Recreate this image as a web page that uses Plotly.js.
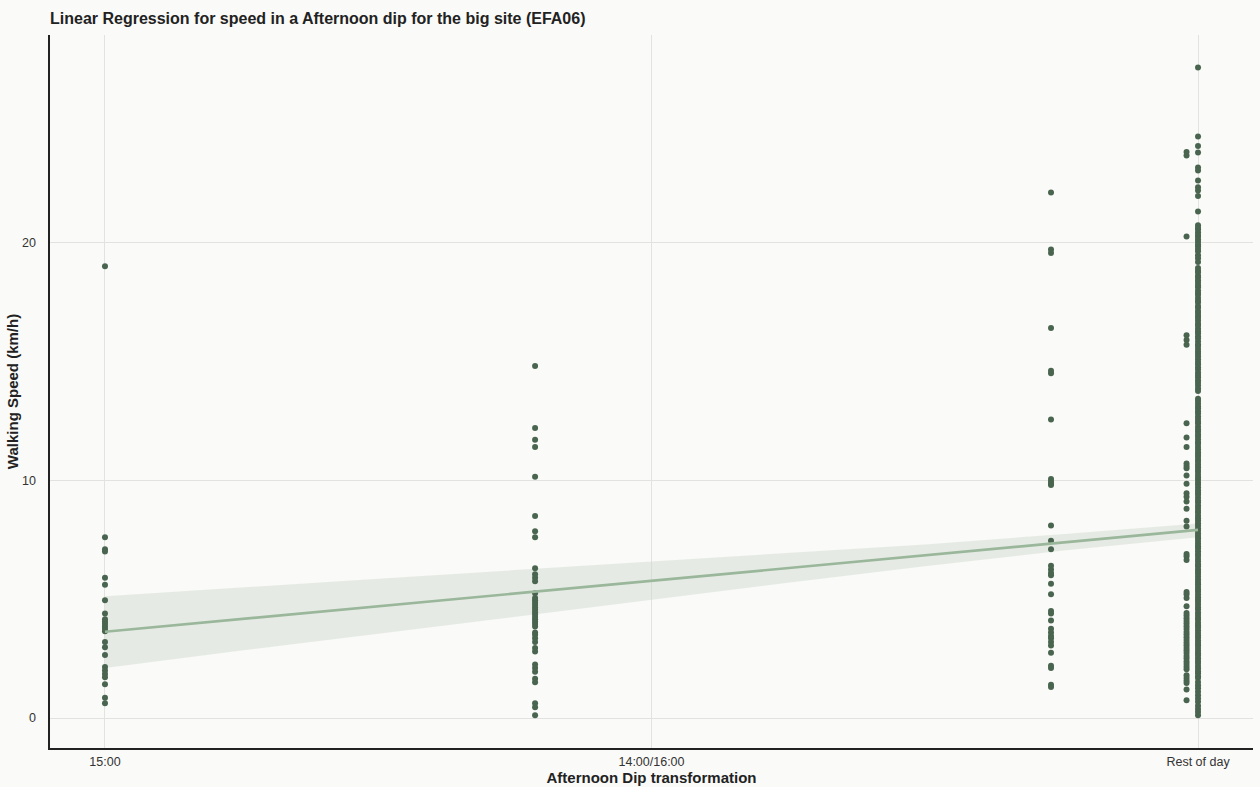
<!DOCTYPE html>
<html>
<head>
<meta charset="utf-8">
<script src="https://cdn.plot.ly/plotly-3.0.1.min.js"></script>
<style>
  html, body { margin: 0; padding: 0; background: #fafaf8; }
  #chart { width: 1260px; height: 787px; }
</style>
</head>
<body>
<div id="chart"></div>
<script>
// Afternoon-dip transformation positions (numeric x) and their axis labels
const tickValues = [0, 1, 2];
const tickLabels = ["15:00", "14:00/16:00", "Rest of day"];

// x position of each observation group
const groupX = [0, 0.787, 1.731, 1.979, 2];

// Walking speed (km/h) per group
const speed15 = [19.0, 7.6, 7.1, 7.0, 5.9, 5.6, 4.95, 4.4, 4.15, 4.05, 3.95, 3.85, 3.75, 3.65,
  3.2, 2.98, 2.65, 2.15, 2.0, 1.85, 1.72, 1.42, 0.85, 0.62];

const speedShoulder = [14.8, 12.2, 11.7, 11.4, 10.15, 8.5, 7.85, 7.6, 6.3, 6.05, 5.9, 5.75, 5.25,
  5.05, 4.95, 4.85, 4.75, 4.65, 4.55, 4.45, 4.35, 4.25, 4.15, 4.05, 3.95, 3.85, 3.6, 3.5, 3.35,
  3.2, 2.95, 2.8, 2.25, 2.1, 1.95, 1.65, 1.5, 0.62, 0.45, 0.12];

const speedLate = [22.1, 19.7, 19.55, 16.4, 14.6, 14.5, 12.55, 10.05, 9.95, 9.85, 9.8, 8.1, 7.45,
  7.1, 6.4, 6.25, 6.1, 6.0, 5.65, 5.2, 4.5, 4.4, 4.1, 3.75, 3.6, 3.45, 3.35, 3.2, 3.05, 2.75,
  2.2, 2.1, 1.4, 1.3];

const speedNearRest = [23.8, 23.65, 20.25, 16.1, 15.9, 15.7, 12.4, 11.8, 11.4, 10.7, 10.6, 10.5,
  10.2, 9.85, 9.45, 9.3, 9.1, 8.8, 8.3, 8.05, 6.9, 6.8, 6.65, 5.3, 5.2, 5.05, 4.7, 4.42, 4.31,
  4.2, 4.08, 3.97, 3.86, 3.74, 3.62, 3.51, 3.4, 3.28, 3.17, 3.06, 2.95, 2.84, 2.73, 2.61, 2.5,
  2.38, 2.27, 2.16, 2.05, 1.8, 1.68, 1.57, 1.47, 1.2, 0.75];

const speedRest = [27.35, 24.45, 24.05, 23.78, 23.15, 23.02, 22.6, 22.32, 22.18, 21.95, 21.3,
  20.72, 20.61, 20.55, 20.43, 20.31, 20.24, 20.12, 20.03, 19.91, 19.84, 19.72, 19.63,
  19.46, 19.33, 19.18,
  18.92, 18.81, 18.73, 18.6, 18.52, 18.41, 18.3, 18.19, 18.11, 17.98, 17.87, 17.8, 17.66, 17.55,
  17.47, 17.33, 17.25, 17.12, 17.03, 16.91, 16.82, 16.7, 16.58, 16.49, 16.37, 16.26, 16.18,
  16.05, 15.96, 15.83, 15.71, 15.64, 15.52, 15.4, 15.31, 15.2, 15.09, 14.97, 14.88, 14.75,
  14.66, 14.53, 14.42, 14.33, 14.2, 14.1, 13.98, 13.86, 13.75,
  13.42, 13.33, 13.21, 13.1, 13.02, 12.9, 12.81, 12.68, 12.57, 12.46, 12.38, 12.25, 12.13,
  12.04, 11.92, 11.83, 11.71, 11.6, 11.52, 11.4, 11.29, 11.18, 11.07, 10.98, 10.86, 10.77,
  10.65, 10.54, 10.43, 10.35, 10.22, 10.11, 10.02, 9.9, 9.81, 9.69, 9.58, 9.47, 9.39, 9.26,
  9.15, 9.06, 8.94, 8.83, 8.72, 8.63, 8.51, 8.4, 8.31, 8.19, 8.08, 7.97, 7.88, 7.76, 7.65,
  7.56, 7.44, 7.33, 7.22, 7.13, 7.01, 6.9, 6.81, 6.69, 6.58, 6.47, 6.38, 6.26, 6.15, 6.06,
  5.94, 5.83, 5.72, 5.63, 5.51, 5.4, 5.31, 5.19, 5.08, 4.97, 4.88, 4.76, 4.65, 4.56, 4.44,
  4.33, 4.22, 4.13, 4.01, 3.9, 3.81, 3.69, 3.58, 3.47, 3.38, 3.26, 3.15, 3.06, 2.94, 2.83,
  2.72, 2.63, 2.51, 2.4, 2.31, 2.19, 2.08, 1.97, 1.88, 1.76, 1.68,
  1.52, 1.38, 1.25, 1.1, 0.96, 0.82, 0.68, 0.52, 0.38, 0.25, 0.12];

// Fitted regression line and its confidence band
const fitX = [0, 2];
const fitY = [3.63, 7.91];
const bandX = [0, 0.25, 0.5, 0.75, 1, 1.25, 1.5, 1.75, 2];
const bandUpper = [5.12, 5.5, 5.86, 6.22, 6.57, 6.93, 7.3, 7.73, 8.18];
const bandLower = [2.1, 2.84, 3.54, 4.26, 4.97, 5.69, 6.38, 7.03, 7.6];

const pointColor = "#4a654f";
const groups = [speed15, speedShoulder, speedLate, speedNearRest, speedRest];

const xs = [], ys = [];
groups.forEach((vals, i) => {
  vals.forEach(v => { xs.push(groupX[i]); ys.push(v); });
});

const traces = [
  {
    x: bandX, y: bandLower, type: "scatter", mode: "lines",
    line: { width: 0, color: "rgba(0,0,0,0)" }, hoverinfo: "skip", showlegend: false
  },
  {
    x: bandX, y: bandUpper, type: "scatter", mode: "lines", fill: "tonexty",
    fillcolor: "rgba(205,218,204,0.45)",
    line: { width: 0, color: "rgba(0,0,0,0)" }, hoverinfo: "skip", showlegend: false
  },
  {
    x: xs, y: ys, type: "scatter", mode: "markers",
    marker: { color: pointColor, size: 6 }, showlegend: false
  },
  {
    x: fitX, y: fitY, type: "scatter", mode: "lines",
    line: { color: "#9bb79b", width: 2.6 }, showlegend: false
  }
];

const fontFamily = "'Liberation Sans', Arial, Helvetica, sans-serif";

const layout = {
  width: 1260, height: 787,
  paper_bgcolor: "#fafaf8",
  plot_bgcolor: "#fafaf8",
  margin: { l: 50, r: 7, t: 35, b: 39 },
  font: { family: fontFamily, color: "#333" },
  title: {
    text: "<b>Linear Regression for speed in a Afternoon dip for the big site (EFA06)</b>",
    font: { family: fontFamily, size: 16, color: "#222" },
    x: 50 / 1260, xref: "container", xanchor: "left",
    y: 1 - 18 / 787, yref: "container", yanchor: "middle"
  },
  xaxis: {
    range: [-0.1006, 2.1006],
    tickvals: tickValues, ticktext: tickLabels,
    ticks: "", ticklabelstandoff: 1,
    tickfont: { size: 12.5, color: "#333" },
    showgrid: true, gridcolor: "#e2e2e0", gridwidth: 1,
    zeroline: false,
    showline: true, linecolor: "#222", linewidth: 1.6,
    title: { text: "<b>Afternoon Dip transformation</b>", font: { size: 15, color: "#222" }, standoff: 3 },
    automargin: false
  },
  yaxis: {
    range: [-1.26, 28.72],
    tickvals: [0, 10, 20],
    ticks: "", ticklabelstandoff: 10,
    tickfont: { size: 12.5, color: "#333" },
    showgrid: true, gridcolor: "#e2e2e0", gridwidth: 1,
    zeroline: false,
    showline: true, linecolor: "#222", linewidth: 1.6,
    title: { text: "<b>Walking Speed (km/h)</b>", font: { size: 15, color: "#222" }, standoff: 0 },
    automargin: false
  },
  showlegend: false
};

Plotly.newPlot("chart", traces, layout, { displayModeBar: false, staticPlot: true });
</script>
</body>
</html>
